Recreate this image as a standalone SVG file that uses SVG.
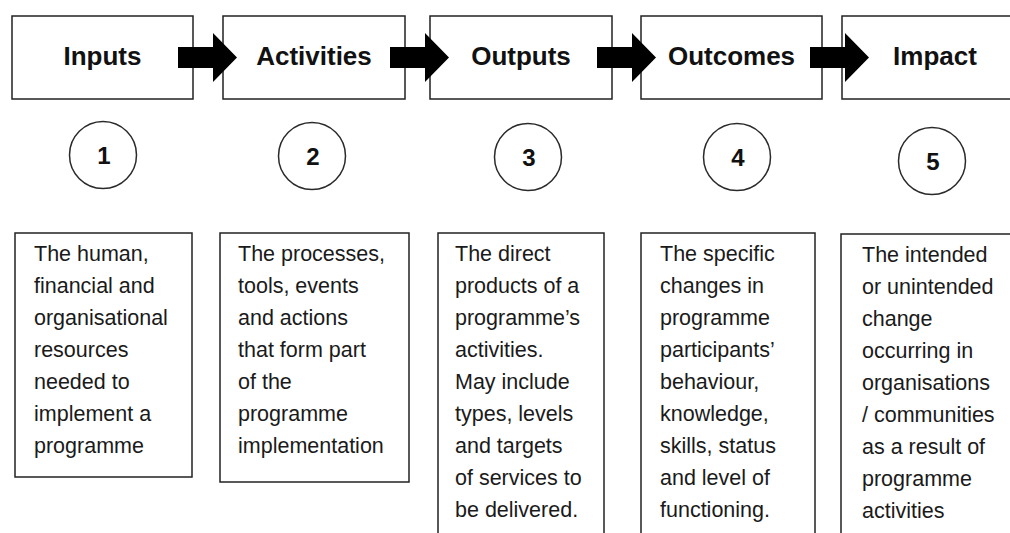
<svg xmlns="http://www.w3.org/2000/svg" width="1010" height="533" viewBox="0 0 1010 533">
  <defs>
    <style>
      .stage { fill: #ffffff; stroke: #222222; stroke-width: 1.5; }
      .step { fill: #ffffff; stroke: #2a2a2a; stroke-width: 1.5; }
      .desc { fill: #ffffff; stroke: #222222; stroke-width: 1.5; }
      .title { font-family: "Liberation Sans", Arial, sans-serif; font-weight: bold; font-size: 26px; fill: #111111; text-anchor: middle; }
      .num { font-family: "Liberation Sans", Arial, sans-serif; font-weight: bold; font-size: 24px; fill: #111111; text-anchor: middle; }
      .body { font-family: "Liberation Sans", Arial, sans-serif; font-size: 21.5px; fill: #1a1a1a; }
      .arrow { fill: #000000; stroke: none; }
    </style>
    <!-- block arrow, origin at the tail of the shaft, centred vertically -->
    <path id="blockArrow" d="M0,-10.5 H35 V-24.5 L59,0 L35,24.5 V10.5 H0 Z"/>
  </defs>

  <rect width="1010" height="533" fill="#ffffff"/>

  <!-- stage boxes -->
  <g id="inputs">
    <rect class="stage" x="12" y="16" width="181" height="83"/>
    <text class="title" x="102.5" y="65">Inputs</text>
  </g>
  <g id="activities">
    <rect class="stage" x="223" y="16" width="182" height="83"/>
    <text class="title" x="314" y="65">Activities</text>
  </g>
  <g id="outputs">
    <rect class="stage" x="430" y="16" width="182" height="83"/>
    <text class="title" x="521" y="65">Outputs</text>
  </g>
  <g id="outcomes">
    <rect class="stage" x="641" y="16" width="181" height="83"/>
    <text class="title" x="731.5" y="65">Outcomes</text>
  </g>
  <g id="impact">
    <rect class="stage" x="842" y="16" width="182" height="83"/>
    <text class="title" x="935" y="65">Impact</text>
  </g>

  <!-- connectors between stages -->
  <g id="connectors">
    <use href="#blockArrow" class="arrow" x="178" y="57.5"/>
    <use href="#blockArrow" class="arrow" x="390" y="57.5"/>
    <use href="#blockArrow" class="arrow" x="597" y="57.5"/>
    <use href="#blockArrow" class="arrow" x="810" y="57.5"/>
  </g>

  <!-- numbered markers -->
  <g id="step-1">
    <circle class="step" cx="103" cy="155" r="33.5"/>
    <text class="num" x="104" y="163.5">1</text>
  </g>
  <g id="step-2">
    <circle class="step" cx="312" cy="156" r="33.5"/>
    <text class="num" x="313" y="164.5">2</text>
  </g>
  <g id="step-3">
    <circle class="step" cx="528" cy="157" r="33.5"/>
    <text class="num" x="529" y="165.5">3</text>
  </g>
  <g id="step-4">
    <circle class="step" cx="737" cy="157" r="33.5"/>
    <text class="num" x="738" y="165.5">4</text>
  </g>
  <g id="step-5">
    <circle class="step" cx="932" cy="161" r="33.5"/>
    <text class="num" x="933" y="169.5">5</text>
  </g>

  <!-- descriptions -->
  <g id="desc-inputs">
    <rect class="desc" x="15" y="233" width="177" height="244"/>
    <text class="body">
      <tspan x="34" y="261">The human,</tspan>
      <tspan x="34" y="293">financial and</tspan>
      <tspan x="34" y="325">organisational</tspan>
      <tspan x="34" y="357">resources</tspan>
      <tspan x="34" y="389">needed to</tspan>
      <tspan x="34" y="421">implement a</tspan>
      <tspan x="34" y="453">programme</tspan>
    </text>
  </g>
  <g id="desc-activities">
    <rect class="desc" x="220" y="233" width="189" height="249"/>
    <text class="body">
      <tspan x="238" y="261">The processes,</tspan>
      <tspan x="238" y="293">tools, events</tspan>
      <tspan x="238" y="325">and actions</tspan>
      <tspan x="238" y="357">that form part</tspan>
      <tspan x="238" y="389">of the</tspan>
      <tspan x="238" y="421">programme</tspan>
      <tspan x="238" y="453">implementation</tspan>
    </text>
  </g>
  <g id="desc-outputs">
    <rect class="desc" x="438" y="233" width="166" height="310"/>
    <text class="body">
      <tspan x="455" y="261">The direct</tspan>
      <tspan x="455" y="293">products of a</tspan>
      <tspan x="455" y="325">programme’s</tspan>
      <tspan x="455" y="357">activities.</tspan>
      <tspan x="455" y="389">May include</tspan>
      <tspan x="455" y="421">types, levels</tspan>
      <tspan x="455" y="453">and targets</tspan>
      <tspan x="455" y="485">of services to</tspan>
      <tspan x="455" y="517">be delivered.</tspan>
    </text>
  </g>
  <g id="desc-outcomes">
    <rect class="desc" x="641" y="233" width="174" height="310"/>
    <text class="body">
      <tspan x="660" y="261">The specific</tspan>
      <tspan x="660" y="293">changes in</tspan>
      <tspan x="660" y="325">programme</tspan>
      <tspan x="660" y="357">participants’</tspan>
      <tspan x="660" y="389">behaviour,</tspan>
      <tspan x="660" y="421">knowledge,</tspan>
      <tspan x="660" y="453">skills, status</tspan>
      <tspan x="660" y="485">and level of</tspan>
      <tspan x="660" y="517">functioning.</tspan>
    </text>
  </g>
  <g id="desc-impact">
    <rect class="desc" x="841" y="234" width="180" height="310"/>
    <text class="body">
      <tspan x="862" y="262">The intended</tspan>
      <tspan x="862" y="294">or unintended</tspan>
      <tspan x="862" y="326">change</tspan>
      <tspan x="862" y="358">occurring in</tspan>
      <tspan x="862" y="390">organisations</tspan>
      <tspan x="862" y="422">/ communities</tspan>
      <tspan x="862" y="454">as a result of</tspan>
      <tspan x="862" y="486">programme</tspan>
      <tspan x="862" y="518">activities</tspan>
    </text>
  </g>
</svg>
